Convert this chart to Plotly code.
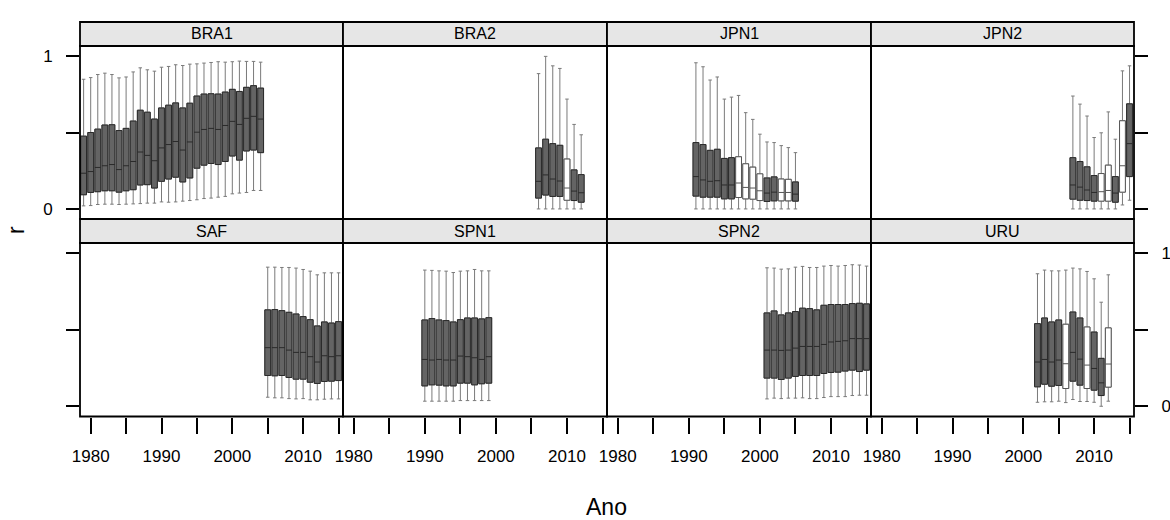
import plotly.graph_objects as go

# ---------------- data ----------------
PANELS = ["BRA1", "BRA2", "JPN1", "JPN2", "SAF", "SPN1", "SPN2", "URU"]

BRA1_YEARS = list(range(1979, 2005))
BRA1_Q1 = [.093, .108, .113, .119, .119, .110, .119, .126, .157, .159, .137, .181, .196, .208, .177, .203, .267, .287, .298, .291, .311, .347, .320, .380, .386, .369]
BRA1_MED = [.234, .245, .272, .283, .291, .258, .283, .311, .373, .351, .316, .400, .422, .442, .386, .439, .503, .521, .528, .521, .547, .574, .554, .594, .607, .589]
BRA1_Q3 = [.477, .501, .523, .550, .552, .514, .528, .576, .647, .634, .589, .662, .680, .695, .662, .693, .740, .753, .755, .753, .766, .784, .770, .797, .808, .792]
BRA1_LO = [.020, .022, .029, .031, .031, .029, .031, .033, .035, .038, .038, .046, .044, .046, .051, .055, .060, .068, .071, .077, .082, .099, .104, .108, .121, .121]
BRA1_HI = [.850, .861, .881, .890, .881, .859, .865, .898, .925, .912, .903, .929, .934, .945, .940, .949, .951, .956, .960, .965, .962, .965, .969, .967, .967, .962]
BRA1_WHITE = []

BRA2_YEARS = list(range(2006, 2013))
BRA2_Q1 = [.071, .091, .082, .082, .057, .055, .044]
BRA2_MED = [.181, .223, .196, .183, .137, .117, .106]
BRA2_Q3 = [.400, .457, .428, .417, .327, .256, .225]
BRA2_LO = [0, 0, 0, 0, 0, 0, 0]
BRA2_HI = [.887, 1.0, .938, .921, .720, .554, .486]
BRA2_WHITE = [2010]

JPN1_YEARS = list(range(1991, 2006))
JPN1_Q1 = [.084, .077, .077, .077, .066, .066, .075, .066, .064, .055, .049, .053, .053, .053, .051]
JPN1_MED = [.212, .190, .181, .185, .157, .157, .170, .141, .137, .119, .104, .110, .108, .108, .097]
JPN1_Q3 = [.435, .422, .384, .391, .331, .336, .342, .296, .274, .230, .203, .210, .196, .194, .177]
JPN1_LO = [0] * 15
JPN1_HI = [.958, .932, .845, .865, .720, .733, .744, .631, .587, .490, .439, .435, .415, .402, .369]
JPN1_WHITE = [1997, 1998, 1999, 2000, 2003, 2004]

JPN2_YEARS = list(range(2007, 2016))
JPN2_Q1 = [.064, .057, .055, .051, .051, .051, .044, .110, .212]
JPN2_MED = [.157, .143, .124, .108, .113, .121, .104, .283, .428]
JPN2_Q3 = [.336, .311, .276, .219, .232, .287, .212, .578, .689]
JPN2_LO = [0, 0, 0, 0, 0, 0, 0, .026, .057]
JPN2_HI = [.740, .687, .609, .468, .499, .636, .457, .905, .938]
JPN2_WHITE = [2011, 2012, 2014]

SAF_YEARS = list(range(2005, 2016))
SAF_Q1 = [.202, .200, .202, .189, .178, .178, .158, .150, .163, .165, .169]
SAF_MED = [.384, .384, .384, .368, .353, .353, .325, .290, .331, .325, .331]
SAF_Q3 = [.631, .633, .626, .615, .604, .587, .567, .526, .552, .545, .554]
SAF_LO = [.060, .056, .056, .051, .049, .051, .043, .043, .047, .049, .049]
SAF_HI = [.910, .910, .908, .908, .904, .895, .884, .860, .873, .873, .873]
SAF_WHITE = []

SPN1_YEARS = list(range(1990, 2000))
SPN1_Q1 = [.134, .141, .139, .134, .134, .152, .152, .141, .148, .152]
SPN1_MED = [.307, .303, .307, .303, .303, .329, .325, .318, .307, .325]
SPN1_Q3 = [.565, .574, .565, .561, .552, .567, .578, .578, .572, .580]
SPN1_LO = [.034, .034, .034, .034, .034, .038, .038, .038, .038, .038]
SPN1_HI = [.891, .889, .886, .884, .875, .884, .886, .895, .886, .886]
SPN1_WHITE = []

SPN2_YEARS = list(range(2001, 2016))
SPN2_Q1 = [.185, .185, .176, .185, .196, .202, .202, .202, .215, .222, .224, .231, .237, .228, .237]
SPN2_MED = [.368, .368, .366, .368, .381, .392, .392, .392, .405, .421, .425, .429, .443, .443, .443]
SPN2_Q3 = [.611, .624, .598, .611, .620, .642, .639, .631, .661, .666, .666, .666, .672, .674, .670]
SPN2_LO = [.049, .054, .051, .054, .054, .056, .051, .051, .058, .064, .064, .064, .071, .073, .073]
SPN2_HI = [.906, .904, .897, .899, .910, .915, .908, .908, .917, .921, .917, .921, .926, .924, .917]
SPN2_WHITE = []

URU_YEARS = list(range(2002, 2013))
URU_Q1 = [.128, .145, .132, .137, .117, .165, .139, .117, .106, .071, .126]
URU_MED = [.290, .307, .290, .303, .279, .353, .309, .270, .248, .154, .277]
URU_Q3 = [.541, .578, .552, .565, .537, .617, .578, .519, .486, .314, .513]
URU_LO = [.027, .030, .030, .034, .025, .045, .032, .032, .027, .001, .034]
URU_HI = [.867, .891, .886, .886, .891, .904, .899, .882, .834, .681, .860]
URU_WHITE = [2006, 2009, 2012]

X_TICKS = [1980, 1985, 1990, 1995, 2000, 2005, 2010, 2015]
X_TICKTEXT = ["1980", "", "1990", "", "2000", "", "2010", ""]
Y_TICKS = [0, 0.5, 1]
Y_TICKTEXT = ["0", "", "1"]
X_TITLE = "Ano"
Y_TITLE = "r"

DATA = {
    "BRA1": (BRA1_YEARS, BRA1_Q1, BRA1_MED, BRA1_Q3, BRA1_LO, BRA1_HI, BRA1_WHITE),
    "BRA2": (BRA2_YEARS, BRA2_Q1, BRA2_MED, BRA2_Q3, BRA2_LO, BRA2_HI, BRA2_WHITE),
    "JPN1": (JPN1_YEARS, JPN1_Q1, JPN1_MED, JPN1_Q3, JPN1_LO, JPN1_HI, JPN1_WHITE),
    "JPN2": (JPN2_YEARS, JPN2_Q1, JPN2_MED, JPN2_Q3, JPN2_LO, JPN2_HI, JPN2_WHITE),
    "SAF": (SAF_YEARS, SAF_Q1, SAF_MED, SAF_Q3, SAF_LO, SAF_HI, SAF_WHITE),
    "SPN1": (SPN1_YEARS, SPN1_Q1, SPN1_MED, SPN1_Q3, SPN1_LO, SPN1_HI, SPN1_WHITE),
    "SPN2": (SPN2_YEARS, SPN2_Q1, SPN2_MED, SPN2_Q3, SPN2_LO, SPN2_HI, SPN2_WHITE),
    "URU": (URU_YEARS, URU_Q1, URU_MED, URU_Q3, URU_LO, URU_HI, URU_WHITE),
}

# ---------------- layout geometry ----------------
W, H = 1170, 520
COL_EDGES = [80, 343, 607, 871, 1134]
ROWS = [  # (strip_top, panel_top, panel_bottom) in px
    (22, 46, 219),
    (219, 243, 416.5),
]
XR = [1978.49, 2015.63]
YR = [-0.066, 1.068]
FONT = "Liberation Sans, Arial, sans-serif"
BOX_W = 0.82
BORDER_W = 1.8


def py(p):
    return 1 - p / H


fig = go.Figure()
layout = dict(
    template="none",
    width=W, height=H, margin=dict(l=0, r=0, t=0, b=0, pad=0),
    paper_bgcolor="white", plot_bgcolor="white",
    showlegend=False, boxmode="overlay",
    font=dict(family=FONT, size=17, color="black"),
)
shapes = []
annotations = []

for idx, name in enumerate(PANELS):
    r, c = divmod(idx, 4)
    n = idx + 1
    xa = "x" if n == 1 else f"x{n}"
    ya = "y" if n == 1 else f"y{n}"
    years, q1, med, q3, lo, hi, white = DATA[name]
    xd = [COL_EDGES[c] / W, COL_EDGES[c + 1] / W]
    st, pt, pb = ROWS[r]
    yd = [py(pb), py(pt)]

    # whiskers
    fig.add_trace(go.Box(
        x=years, q1=q1, median=med, q3=q3, lowerfence=lo, upperfence=hi,
        width=BOX_W, whiskerwidth=0.6, fillcolor="rgba(0,0,0,0)",
        line=dict(color="#7a7a7a", width=1), xaxis=xa, yaxis=ya,
        hoverinfo="skip", boxpoints=False))
    # boxes (dark / white)
    for is_white in (False, True):
        sel = [i for i, yv in enumerate(years) if (yv in white) == is_white]
        if not sel:
            continue
        fig.add_trace(go.Box(
            x=[years[i] for i in sel],
            q1=[q1[i] for i in sel], median=[med[i] for i in sel], q3=[q3[i] for i in sel],
            lowerfence=[q1[i] for i in sel], upperfence=[q3[i] for i in sel],
            width=BOX_W, whiskerwidth=0,
            fillcolor="white" if is_white else "#646464",
            line=dict(color="#555555" if is_white else "#2a2a2a", width=1),
            xaxis=xa, yaxis=ya, hoverinfo="skip", boxpoints=False))

    bottom_row = (r == 1)
    layout[f"xaxis{n}"] = dict(
        domain=xd, range=XR, anchor=ya, showgrid=False, zeroline=False, automargin=False,
        showline=False,
        tickmode="array", tickvals=X_TICKS, ticktext=X_TICKTEXT,
        ticks="outside" if bottom_row else "", ticklen=16, tickwidth=1.5, tickcolor="black",
        showticklabels=bottom_row, tickfont=dict(size=17, family=FONT),
        ticklabelstandoff=8,
    )
    yax = dict(
        domain=yd, range=YR, anchor=xa, showgrid=False, zeroline=False, automargin=False,
        showline=False,
        tickmode="array", tickvals=Y_TICKS, ticktext=Y_TICKTEXT, tickwidth=1.5, tickcolor="black",
        ticklen=13, tickfont=dict(size=17, family=FONT), ticklabelstandoff=10,
    )
    if c == 0:
        yax.update(side="left", ticks="outside", showticklabels=(r == 0))
    elif c == 3:
        yax.update(side="right", ticks="outside", showticklabels=(r == 1))
    else:
        yax.update(ticks="", showticklabels=False)
    layout[f"yaxis{n}"] = yax

    # panel border
    shapes.append(dict(type="rect", xref="paper", yref="paper",
                       x0=xd[0], x1=xd[1], y0=yd[0], y1=yd[1],
                       fillcolor="rgba(0,0,0,0)", line=dict(color="black", width=BORDER_W),
                       layer="above"))
    # strip
    shapes.append(dict(type="rect", xref="paper", yref="paper",
                       x0=xd[0], x1=xd[1], y0=py(pt), y1=py(st),
                       fillcolor="#e6e6e6", line=dict(color="black", width=BORDER_W), layer="above"))
    annotations.append(dict(text=name, xref="paper", yref="paper",
                            x=(xd[0] + xd[1]) / 2, y=(py(pt) + py(st)) / 2,
                            xanchor="center", yanchor="middle", showarrow=False,
                            font=dict(size=16, family=FONT, color="black")))

    # top ticks above strips for the top row
    if r == 0:
        layout[f"xaxis{n + 8}"] = dict(
            domain=xd, range=XR, overlaying=xa, anchor="free", position=py(st),
            side="top", showgrid=False, zeroline=False, showline=False, automargin=False,
            tickmode="array", tickvals=X_TICKS, ticks="outside", ticklen=15, tickwidth=1.5,
            tickcolor="black", showticklabels=False)

annotations.append(dict(text=X_TITLE, xref="paper", yref="paper", x=606 / W, y=py(507),
                        xanchor="center", yanchor="middle", showarrow=False,
                        font=dict(size=23, family=FONT, color="black")))
annotations.append(dict(text=Y_TITLE, xref="paper", yref="paper", x=16 / W, y=py(230),
                        xanchor="center", yanchor="middle", showarrow=False, textangle=-90,
                        font=dict(size=23, family=FONT, color="black")))

layout["shapes"] = shapes
layout["annotations"] = annotations
fig.update_layout(**layout)
fig.write_html("out.html")
